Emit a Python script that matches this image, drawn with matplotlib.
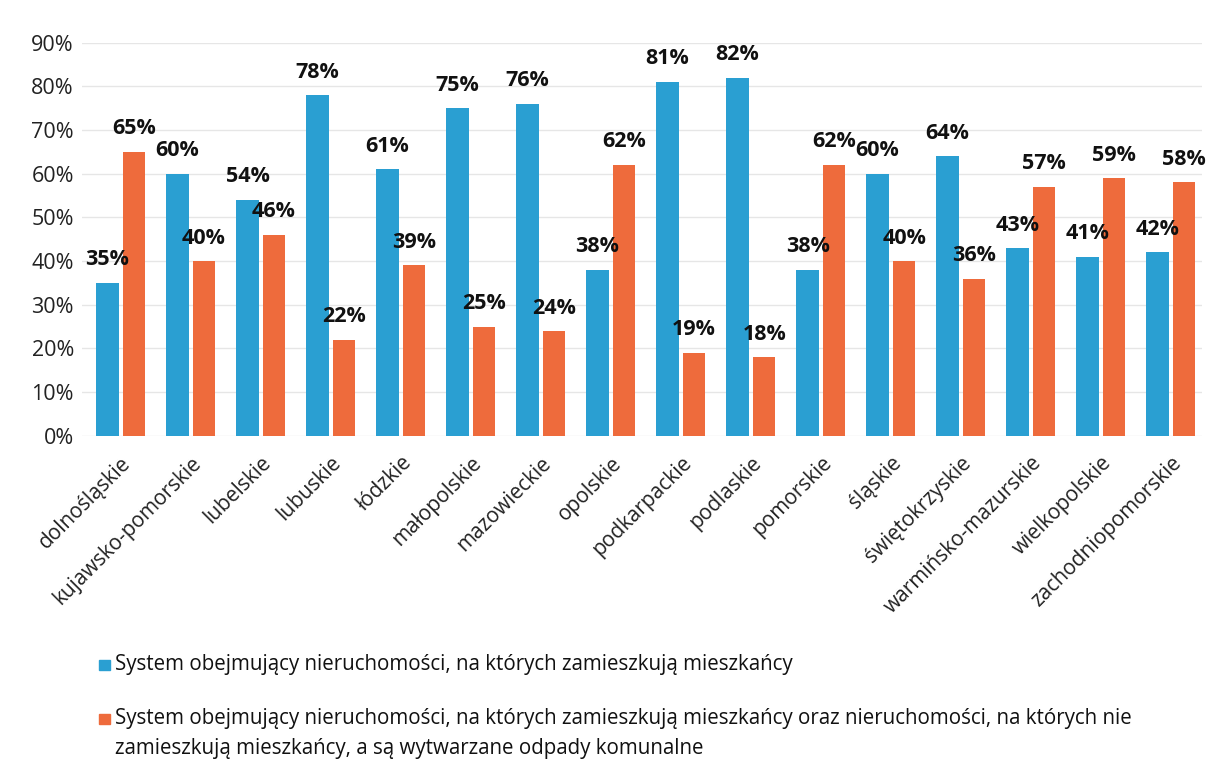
import numpy as np
import matplotlib.pyplot as plt
from matplotlib.patches import Rectangle

plt.rcParams['font.family'] = ['Open Sans', 'DejaVu Sans']

wojewodztwa = ["dolnośląskie", "kujawsko-pomorskie", "lubelskie", "lubuskie", "łódzkie",
               "małopolskie", "mazowieckie", "opolskie", "podkarpackie", "podlaskie",
               "pomorskie", "śląskie", "świętokrzyskie", "warmińsko-mazurskie",
               "wielkopolskie", "zachodniopomorskie"]
zamieszkale = [35, 60, 54, 78, 61, 75, 76, 38, 81, 82, 38, 60, 64, 43, 41, 42]
wszystkie = [65, 40, 46, 22, 39, 25, 24, 62, 19, 18, 62, 40, 36, 57, 59, 58]

seria1 = "System obejmujący nieruchomości, na których zamieszkują mieszkańcy"
seria2 = ("System obejmujący nieruchomości, na których zamieszkują mieszkańcy oraz nieruchomości, na których nie\n"
          "zamieszkują mieszkańcy, a są wytwarzane odpady komunalne")

c_blue = "#2a9fd2"
c_orange = "#ee6b3c"

fig = plt.figure(figsize=(12.27, 7.62), dpi=100)
ax = fig.add_axes([0.067, 0.428, 0.913, 0.516])

x = np.arange(len(wojewodztwa))
w = 0.32
b1 = ax.bar(x - 0.19, zamieszkale, w, color=c_blue, zorder=2)
b2 = ax.bar(x + 0.19, wszystkie, w, color=c_orange, zorder=2)

for bars, vals in ((b1, zamieszkale), (b2, wszystkie)):
    for b, v in zip(bars, vals):
        ax.annotate(f"{v}%", (b.get_x() + b.get_width() / 2, v), xytext=(0, 9),
                    textcoords="offset points", ha="center", va="bottom",
                    fontsize=15.5, fontweight="bold", color="#111111")

ax.set_ylim(0, 90)
ax.set_xlim(-0.55, 15.45)
ax.set_yticks(np.arange(0, 91, 10))
ax.set_yticklabels([f"{t}%" for t in range(0, 91, 10)], fontsize=15.5, color="#222222")
ax.set_xticks(x)
ax.set_xticklabels(wojewodztwa, rotation=45, ha="right", rotation_mode="anchor",
                   fontsize=15, color="#222222")
ax.tick_params(axis="y", length=0, pad=6)
ax.tick_params(axis="x", length=0, pad=12)
ax.grid(axis="y", color="#e6e6e6", linewidth=1, zorder=0)
for s in ax.spines.values():
    s.set_visible(False)

# legenda rysowana recznie (kwadrat przy pierwszej linii)
for col, txt, ytop in ((c_blue, seria1, 0.129), (c_orange, seria2, 0.058)):
    fig.add_artist(Rectangle((0.081, ytop - 0.008), 0.0085, 0.0135, transform=fig.transFigure,
                             color=col))
    fig.text(0.094, ytop + 0.013, txt, fontsize=14.8, color="#111111", va="top",
             linespacing=1.55)

fig.savefig("out.png", dpi=100, facecolor="white")
